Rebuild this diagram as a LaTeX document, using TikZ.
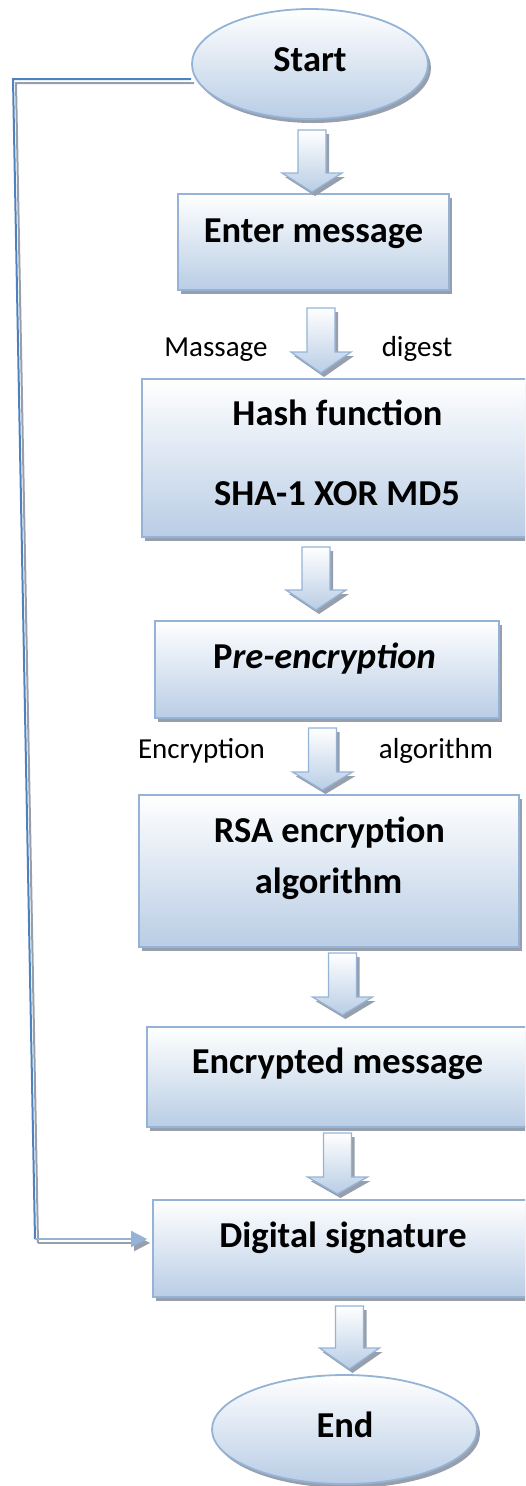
\documentclass[tikz,border=0pt]{standalone}
\usepackage{fontspec}
\setmainfont{Carlito}
\usetikzlibrary{shapes.geometric,shadows,arrows.meta}
\definecolor{bord}{HTML}{95B3D7}
\definecolor{fillb}{HTML}{B9CDE5}
\definecolor{fillm}{HTML}{DDE7F3}
\definecolor{shad}{HTML}{979FAC}
\definecolor{conn}{HTML}{4F81BD}
\tikzset{
  shd/.style={drop shadow={shadow xshift=3pt,shadow yshift=-4pt,fill=shad,opacity=1}},
  boxst/.style={draw=bord,line width=1.8pt,top color=white,middle color=fillm,bottom color=fillb,shd,inner sep=0pt},
  ellst/.style={boxst,ellipse},
  big/.style={font=\fontsize{36.5}{40}\selectfont\bfseries,inner sep=0pt},
  small/.style={font=\fontsize{29}{34}\selectfont,inner sep=0pt},
  barrow/.style={draw=bord,line width=1.3pt,top color=white,bottom color=fillb,shd,line join=miter},
  connline/.style={line width=2pt},
}
\newcommand\blockarrow[4]{%
  \path[barrow] (#1-14,#2) -- (#1+14,#2) -- (#1+14,#3) -- (#1+30,#3) -- (#1,#4) -- (#1-30,#3) -- (#1-14,#3) -- cycle;}
\begin{document}
\begin{tikzpicture}[x=1pt,y=-1pt]
\useasboundingbox (0,0) rectangle (525,1486);
\clip (0,0) rectangle (525,1486);
% shapes
\node[ellst,minimum width=236pt,minimum height=110pt] (start) at (310,64) {};
\node[boxst,minimum width=271pt,minimum height=96pt] (enter) at (313.5,242) {};
\node[boxst,minimum width=393pt,minimum height=158pt] (hash) at (338.5,458) {};
\node[boxst,minimum width=344pt,minimum height=97pt] (pre) at (327,669.5) {};
\node[boxst,minimum width=380pt,minimum height=152pt] (rsa) at (329,871) {};
\node[boxst,minimum width=388pt,minimum height=100pt] (enc) at (341,1077) {};
\node[boxst,minimum width=382pt,minimum height=97pt] (dig) at (344,1248.5) {};
\node[ellst,minimum width=265pt,minimum height=109pt] (end) at (344.5,1429.5) {};
% texts
\node[big,anchor=base] (tstart) at (310,71) {Start};
\node[big,anchor=base] (tenter) at (313.5,242) {Enter message};
\node[small,anchor=base] (tmass) at (216,356) {Massage};
\node[small,anchor=base] (tdig) at (417,356) {digest};
\node[big,anchor=base] (thash1) at (337.5,425) {Hash function};
\node[big,anchor=base] (thash2) at (337,505) {SHA-1 XOR MD5};
\node[big,anchor=base] (tpre) at (324.5,668) {P\textit{re-encryption}};
\node[small,anchor=base] (tencr) at (201.5,758) {Encryption};
\node[small,anchor=base] (talg) at (436,758) {algorithm};
\node[big,anchor=base] (trsa1) at (329.5,842) {RSA encryption};
\node[big,anchor=base] (trsa2) at (328.5,893) {algorithm};
\node[big,anchor=base] (tenc) at (337.5,1073) {Encrypted message};
\node[big,anchor=base] (tdsig) at (343,1247) {Digital signature};
\node[big,anchor=base] (tend) at (345,1437) {End};
% block arrows
\blockarrow{312}{130}{173}{192}
\blockarrow{321}{308}{352}{373}
\blockarrow{316}{547}{590}{610}
\blockarrow{322.5}{728}{772}{790}
\blockarrow{342.5}{953}{997}{1015}
\blockarrow{337.5}{1133}{1177}{1194}
\blockarrow{349.5}{1306}{1348}{1369}
% feedback connector
\coordinate (lt) at (13,79);
\coordinate (lb) at (35,1239);
\begin{scope}[transform canvas={xshift=3pt,yshift=-4pt}]
  \draw[shad,connline] ([yshift=-15pt]start.west) -- (lt) -- (lb);
  \draw[shad,connline,-{Triangle[length=16pt,width=16pt]}] (lb) -- ([xshift=-5pt,yshift=9.5pt]dig.west);
\end{scope}
\draw[conn,connline] ([yshift=-15pt]start.west) -- (lt) -- (lb);
\draw[bord,connline,-{Triangle[length=16pt,width=16pt]}] (lb) -- ([xshift=-5pt,yshift=9.5pt]dig.west);
\end{tikzpicture}
\end{document}
